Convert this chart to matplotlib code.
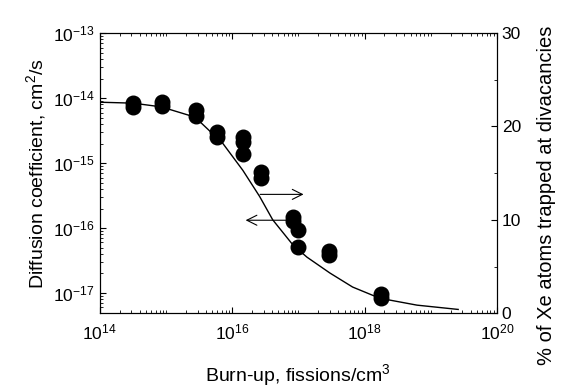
import numpy as np
import matplotlib.pyplot as plt
from matplotlib.ticker import LogLocator, MultipleLocator, NullFormatter

plt.rcParams['font.family'] = ['Liberation Sans', 'DejaVu Sans']
plt.rcParams['mathtext.fontset'] = 'custom'
plt.rcParams['mathtext.rm'] = 'Liberation Sans'
plt.rcParams['mathtext.it'] = 'Liberation Sans'

# Datos medidos: coeficiente de difusion frente a quemado
burnup = [3.2e14, 3.2e14, 8.6e14, 8.6e14, 2.8e15, 2.8e15, 6.0e15, 6.0e15,
          1.44e16, 1.44e16, 1.44e16, 2.7e16, 2.7e16, 8.3e16, 8.3e16,
          1.0e17, 1.0e17, 2.9e17, 2.9e17, 1.8e18, 1.8e18]
diff_coef = [8.4e-15, 7.2e-15, 8.7e-15, 7.6e-15, 6.5e-15, 5.3e-15, 3.0e-15, 2.5e-15,
             2.5e-15, 2.1e-15, 1.4e-15, 7.3e-16, 6.0e-16, 1.5e-16, 1.3e-16,
             9.3e-17, 5.1e-17, 4.4e-17, 3.8e-17, 9.5e-18, 8.3e-18]

# Curva calculada: % de atomos de Xe atrapados en divacancias
curve_x = [1e14, 3.2e14, 8.5e14, 2.75e15, 7.2e15, 1.45e16, 2.6e16, 4.1e16,
           8.3e16, 1.35e17, 3.0e17, 6.6e17, 1.7e18, 6.2e18, 2.6e19]
curve_pct = [22.6, 22.5, 22.1, 21.0, 18.2, 15.3, 12.5, 10.0,
             7.3, 6.0, 4.3, 2.8, 1.6, 0.86, 0.4]

fig = plt.figure(figsize=(5.64, 3.9), dpi=100)
ax = fig.add_axes([0.177, 0.197, 0.704, 0.718])
ax2 = ax.twinx()

ax.scatter(burnup, diff_coef, s=110, color='black', zorder=3)
ax2.plot(curve_x, curve_pct, color='black', lw=1.0)

ax.set_xscale('log')
ax.set_yscale('log')
ax.set_xlim(1e14, 1e20)
ax.set_ylim(4.9e-18, 1e-13)
ax2.set_ylim(0, 30)

ax.set_xticks([1e14, 1e16, 1e18, 1e20])
ax.xaxis.set_minor_locator(LogLocator(base=10, subs=np.arange(1, 10), numticks=20))
ax.xaxis.set_minor_formatter(NullFormatter())
ax.set_yticks([1e-17, 1e-16, 1e-15, 1e-14, 1e-13])
ax.yaxis.set_minor_locator(LogLocator(base=10, subs=np.arange(2, 10), numticks=20))
ax.yaxis.set_minor_formatter(NullFormatter())
ax2.yaxis.set_major_locator(MultipleLocator(10))
ax2.yaxis.set_minor_locator(MultipleLocator(5))

for a in (ax, ax2):
    a.tick_params(which='both', direction='in', labelsize=12.5)
    a.tick_params(which='major', length=4)
    a.tick_params(which='minor', length=2)
ax.tick_params(axis='both', which='both', top=True)
ax.tick_params(axis='x', pad=7)

ax.set_xlabel('Burn-up, fissions/cm$^3$', fontsize=14, labelpad=14)
ax.set_ylabel('Diffusion coefficient, cm$^2$/s', fontsize=14, labelpad=4)
ax2.set_ylabel('% of Xe atoms trapped at divacancies', fontsize=14.5)
ax2.yaxis.set_label_coords(1.1, 0.42)

# Flechas que indican el eje de cada serie
ax.annotate('', xy=(1.32e17, 3.3e-16), xytext=(2.4e16, 3.3e-16),
            arrowprops=dict(arrowstyle='->', lw=0.8, mutation_scale=18))
ax.annotate('', xy=(1.45e16, 1.32e-16), xytext=(7.2e16, 1.32e-16),
            arrowprops=dict(arrowstyle='->', lw=0.8, mutation_scale=18))

fig.savefig('out.png', dpi=100)
